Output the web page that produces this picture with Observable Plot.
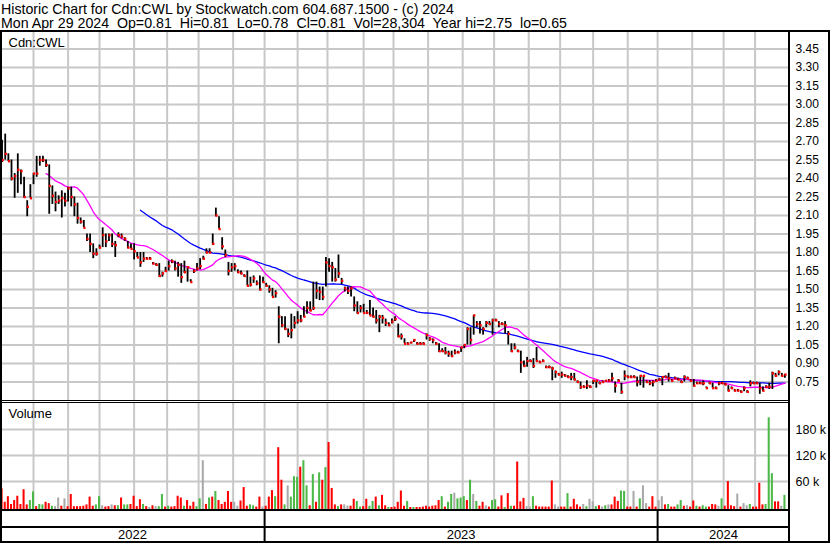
<!DOCTYPE html>
<html><head><meta charset="utf-8">
<script src="https://cdn.jsdelivr.net/npm/d3@7"></script>
<script src="https://cdn.jsdelivr.net/npm/@observablehq/plot@0.6"></script>
<style>
body{margin:0;background:#fff;}
#c{position:relative;width:830px;height:543px;overflow:hidden;background:#fff;font-family:'Liberation Sans',Arial,sans-serif;}
.ln{position:absolute;background:#000;}
.abs{position:absolute;left:0;}
#hdr{position:absolute;left:1px;top:1.5px;font-size:14.2px;line-height:14px;white-space:pre;color:#000;}
</style></head><body>
<div id="c">
 <div id="hdr"></div>
 <div class="abs" id="price" style="top:32px"></div>
 <div class="abs" id="vol" style="top:403px"></div>
 <div class="abs" id="dates" style="top:511px"></div>
 <div class="ln" style="left:0;top:30px;width:830px;height:2px"></div>
 <div class="ln" style="left:0;top:30px;width:2px;height:513px"></div>
 <div class="ln" style="left:788px;top:30px;width:2px;height:513px"></div>
 <div class="ln" style="left:828px;top:30px;width:2px;height:513px"></div>
 <div class="ln" style="left:0;top:400px;width:789px;height:1px"></div>
 <div class="ln" style="left:0;top:402px;width:789px;height:1px"></div>
 <div class="ln" style="left:0;top:509px;width:789px;height:2px"></div>
 <div class="ln" style="left:0;top:526px;width:789px;height:2px"></div>
 <div class="ln" style="left:0;top:541px;width:830px;height:2px"></div>
</div>
<script>
// ---------- header text ----------
const titleLine = "Historic Chart for Cdn:CWL by Stockwatch.com 604.687.1500 - (c) 2024";
const quoteLine = "Mon Apr 29 2024  Op=0.81  Hi=0.81  Lo=0.78  Cl=0.81  Vol=28,304  Year hi=2.75  lo=0.65";
const symbolLabel = "Cdn:CWL";
const volumeLabel = "Volume";

// ---------- trading calendar (TSX holidays) ----------
const firstDay = "2022-05-02", lastDay = "2024-04-29";
const holidays = ["2022-05-23","2022-07-01","2022-08-01","2022-09-05","2022-10-10","2022-12-26","2022-12-27",
  "2023-01-02","2023-02-20","2023-04-07","2023-05-22","2023-07-03","2023-08-07","2023-09-04","2023-10-09","2023-12-25","2023-12-26",
  "2024-01-01","2024-02-19","2024-03-29"];

// ---------- ticks ----------
const priceTicks = [0.75,0.90,1.05,1.20,1.35,1.50,1.65,1.80,1.95,2.10,2.25,2.40,2.55,2.70,2.85,3.00,3.15,3.30,3.45];
const volumeTicks = [60000,120000,180000];

// ---------- data: one entry per two trading days ----------
const high = [
2.71,2.76,2.60,2.55,2.44,2.60,2.47,2.41,2.22,2.35,
2.44,2.58,2.58,2.58,2.55,2.51,2.34,2.29,2.26,2.30,
2.28,2.33,2.33,2.25,2.20,2.08,2.06,1.95,1.95,1.87,
1.83,1.86,2.00,1.95,1.95,1.95,1.89,1.96,1.95,1.92,
1.89,1.87,1.87,1.80,1.80,1.80,1.76,1.76,1.72,1.71,
1.71,1.64,1.68,1.73,1.74,1.73,1.72,1.71,1.73,1.68,
1.58,1.66,1.71,1.75,1.77,1.83,1.83,1.95,2.16,2.09,
1.92,1.82,1.72,1.71,1.71,1.66,1.65,1.62,1.65,1.60,
1.61,1.57,1.61,1.60,1.55,1.53,1.51,1.49,1.36,1.28,
1.28,1.18,1.30,1.28,1.32,1.29,1.36,1.40,1.40,1.56,
1.56,1.52,1.52,1.76,1.75,1.72,1.67,1.78,1.59,1.52,
1.52,1.52,1.44,1.40,1.37,1.38,1.33,1.41,1.35,1.33,
1.29,1.29,1.26,1.23,1.26,1.28,1.22,1.14,1.10,1.07,
1.07,1.09,1.07,1.07,1.07,1.14,1.11,1.10,1.07,1.06,
1.02,1.03,1.00,1.00,1.01,1.00,1.03,1.05,1.19,1.19,
1.29,1.24,1.24,1.19,1.24,1.24,1.26,1.26,1.24,1.23,
1.24,1.16,1.06,1.06,1.01,1.00,0.92,0.95,0.93,0.94,
1.03,0.92,0.93,0.88,0.88,0.87,0.84,0.82,0.83,0.81,
0.80,0.82,0.82,0.76,0.75,0.72,0.76,0.72,0.76,0.76,
0.75,0.76,0.76,0.77,0.82,0.75,0.77,0.74,0.84,0.80,
0.80,0.80,0.79,0.80,0.80,0.76,0.76,0.76,0.77,0.78,
0.79,0.80,0.82,0.77,0.79,0.78,0.76,0.80,0.79,0.77,
0.77,0.75,0.75,0.76,0.71,0.75,0.74,0.71,0.75,0.75,
0.74,0.72,0.71,0.69,0.69,0.68,0.71,0.68,0.76,0.75,
0.75,0.74,0.71,0.72,0.74,0.83,0.82,0.84,0.82,0.81];
const low = [
2.53,2.55,2.54,2.38,2.24,2.28,2.35,2.24,2.09,2.24,
2.35,2.41,2.50,2.53,2.49,2.11,2.19,2.13,2.19,2.08,
2.17,2.21,2.17,2.09,2.03,2.03,2.00,1.89,1.80,1.75,
1.77,1.83,1.84,1.84,1.89,1.84,1.76,1.92,1.91,1.89,
1.83,1.83,1.74,1.76,1.68,1.72,1.74,1.74,1.70,1.69,
1.60,1.60,1.64,1.65,1.71,1.65,1.60,1.55,1.63,1.56,
1.56,1.63,1.65,1.66,1.74,1.79,1.79,1.86,2.09,1.99,
1.82,1.76,1.61,1.64,1.65,1.63,1.62,1.60,1.53,1.52,
1.55,1.53,1.49,1.55,1.52,1.47,1.44,1.43,1.06,1.19,
1.17,1.11,1.10,1.18,1.22,1.23,1.27,1.30,1.32,1.33,
1.42,1.41,1.41,1.52,1.64,1.56,1.56,1.59,1.54,1.48,
1.46,1.44,1.32,1.30,1.31,1.31,1.30,1.29,1.27,1.22,
1.15,1.22,1.20,1.20,1.22,1.24,1.11,1.09,1.06,1.05,
1.06,1.07,1.05,1.05,1.05,1.09,1.08,1.06,1.05,0.99,
0.99,0.97,0.95,0.95,0.97,0.98,0.99,1.02,1.05,1.05,
1.13,1.19,1.14,1.13,1.19,1.21,1.13,1.24,1.19,1.21,
1.14,1.05,0.99,1.01,0.99,0.82,0.87,0.87,0.91,0.86,
0.91,0.90,0.91,0.86,0.86,0.76,0.78,0.80,0.78,0.79,
0.78,0.76,0.76,0.74,0.69,0.70,0.69,0.70,0.73,0.70,
0.73,0.74,0.75,0.75,0.75,0.66,0.75,0.65,0.76,0.78,
0.78,0.78,0.71,0.72,0.70,0.74,0.72,0.71,0.75,0.76,
0.72,0.78,0.75,0.75,0.77,0.76,0.74,0.75,0.77,0.75,
0.71,0.73,0.73,0.72,0.70,0.73,0.70,0.69,0.72,0.73,
0.72,0.67,0.69,0.67,0.67,0.66,0.67,0.66,0.71,0.73,
0.73,0.65,0.67,0.70,0.69,0.69,0.79,0.80,0.79,0.78];
const close = [
2.55,2.60,2.54,2.40,2.42,2.47,2.46,2.25,2.17,2.24,
2.44,2.44,2.55,2.55,2.51,2.34,2.26,2.21,2.22,2.24,
2.22,2.32,2.25,2.19,2.08,2.05,2.00,1.91,1.87,1.79,
1.79,1.84,1.94,1.89,1.94,1.87,1.86,1.94,1.93,1.91,
1.84,1.83,1.81,1.76,1.72,1.75,1.75,1.75,1.71,1.70,
1.61,1.63,1.65,1.69,1.73,1.67,1.70,1.60,1.64,1.68,
1.56,1.65,1.67,1.69,1.75,1.80,1.80,1.87,2.10,1.99,
1.85,1.78,1.65,1.68,1.69,1.64,1.63,1.61,1.53,1.54,
1.59,1.55,1.50,1.56,1.53,1.50,1.44,1.47,1.28,1.21,
1.18,1.14,1.17,1.23,1.25,1.25,1.28,1.35,1.33,1.35,
1.49,1.48,1.44,1.72,1.69,1.68,1.58,1.63,1.57,1.51,
1.49,1.51,1.37,1.31,1.35,1.31,1.31,1.29,1.28,1.25,
1.28,1.27,1.23,1.21,1.24,1.26,1.12,1.12,1.06,1.06,
1.07,1.09,1.06,1.06,1.06,1.13,1.10,1.09,1.06,1.00,
1.00,0.99,0.98,0.96,0.99,0.99,1.03,1.05,1.18,1.09,
1.29,1.22,1.21,1.18,1.23,1.22,1.25,1.25,1.22,1.22,
1.21,1.14,1.00,1.03,1.00,0.91,0.88,0.92,0.92,0.88,
0.92,0.91,0.92,0.87,0.87,0.86,0.83,0.81,0.81,0.80,
0.79,0.79,0.77,0.75,0.71,0.71,0.72,0.71,0.76,0.76,
0.74,0.75,0.76,0.76,0.78,0.72,0.76,0.67,0.80,0.79,
0.79,0.79,0.75,0.80,0.80,0.75,0.74,0.75,0.76,0.77,
0.79,0.79,0.78,0.76,0.78,0.77,0.75,0.79,0.78,0.76,
0.72,0.74,0.74,0.74,0.70,0.74,0.70,0.70,0.74,0.74,
0.73,0.68,0.70,0.68,0.68,0.67,0.70,0.67,0.74,0.74,
0.74,0.70,0.68,0.71,0.71,0.82,0.80,0.83,0.80,0.81];
// volume in thousands of shares
const volumeK = [
43,12,25,7,16,26,7,41,6,16,
36,2,7,6,12,9,3,2,22,3,
20,2,30,2,2,2,3,6,24,3,
6,25,4,1,2,6,4,4,22,6,
6,7,26,2,18,7,2,0,4,2,
2,30,1,3,1,2,26,22,3,16,
3,12,2,20,108,7,22,24,37,16,
7,12,37,12,12,3,15,46,3,6,
4,1,24,1,3,24,39,25,138,63,
6,50,24,71,70,93,108,50,4,76,
12,80,63,92,150,44,6,2,6,6,
3,3,19,14,1,2,19,3,14,24,
4,28,4,0,0,1,12,38,3,14,
0,0,0,0,1,3,1,3,4,16,
25,1,12,30,33,20,22,25,16,63,
30,14,3,12,4,1,16,18,1,27,
0,32,3,3,105,13,21,2,1,25,
3,1,1,1,1,61,6,1,1,1,
32,1,19,6,1,7,2,19,13,2,
4,1,4,6,6,24,14,38,37,1,
1,37,1,20,50,9,1,25,1,16,
25,6,7,1,1,6,16,3,4,1,
15,3,1,4,1,1,7,6,3,20,
3,60,4,2,31,1,9,4,7,1,
1,56,6,7,207,78,13,13,3,28];
// r = down, g = up, n = unchanged
const volumeDir = ("rrrrrrrrrg"+"grggrrgnnr"+"nrrrrrrrrr"+"ggnrrnrgrg"+"grrrrgrnrn"+
  "ggrgrrrrgr"+"rrggnrgrgr"+"rrrrnnrrrg"+"grrnrrrgrr"+"gngggrggrg"+
  "rgrgrrrgrn"+"nrrggrrggr"+"grrgrrrrrg"+"rgrrrrrrrr"+"grggngggrg"+
  "ngrrnrggrr"+"grgrrrrnng"+"rrrrrrnnrr"+"grrrrngnng"+"rngnrrrggr"+
  "rnrgnnrrrn"+"nrgrrggrnr"+"rgrggrrrng"+"rrrrnrnngr"+"rrrgggrrng").split("");
const dirColor = {r: "#ff0000", g: "#4cb848", n: "#a9a9a9"};

// ---------- build calendar ----------
const tradingDays = [];
for (let d = new Date(firstDay + "T00:00:00Z"); d <= new Date(lastDay + "T00:00:00Z"); d.setUTCDate(d.getUTCDate() + 1)) {
  const dow = d.getUTCDay();
  const s = d.toISOString().slice(0, 10);
  if (dow === 0 || dow === 6 || holidays.includes(s)) continue;
  tradingDays.push(s);
}
const monthLines = [], yearStarts = [];
tradingDays.forEach((s, i) => {
  if (i === 0) return;
  const p = tradingDays[i - 1];
  if (s.slice(0, 7) !== p.slice(0, 7)) monthLines.push(i - 0.5);
  if (s.slice(0, 4) !== p.slice(0, 4)) yearStarts.push(i - 0.5);
});
const xDomain = [-0.5, tradingDays.length + 0.4];
const yearBounds = [xDomain[0], ...yearStarts, xDomain[1]];
const years = [];
for (let i = 0; i < yearBounds.length - 1; i++) {
  const idx = Math.ceil(yearBounds[i] + 0.5);
  years.push({label: tradingDays[Math.min(idx, tradingDays.length - 1)].slice(0, 4), mid: (yearBounds[i] + yearBounds[i + 1]) / 2});
}

const rows = close.map((c, k) => ({
  t: 2 * k + 0.5, hi: high[k], lo: low[k], close: c,
  vol: volumeK[k] * 1000, col: dirColor[volumeDir[k]]
}));

document.getElementById("hdr").textContent = titleLine + "\n" + quoteLine;

const font = "'Liberation Sans', Arial, sans-serif";
const grid = "#c8c8c8";

const price = Plot.plot({
  width: 830, height: 368,
  marginLeft: 0, marginRight: 41, marginTop: 0, marginBottom: 0,
  style: {fontFamily: font, fontSize: "12px", color: "black", background: "transparent", overflow: "visible"},
  x: {domain: xDomain, axis: null},
  y: {domain: [0.60, 3.584]},
  marks: [
    Plot.ruleY(priceTicks, {stroke: grid, strokeWidth: 2}),
    Plot.ruleX(monthLines, {stroke: grid, strokeWidth: 2}),
    Plot.axisY(priceTicks, {anchor: "right", tickSize: 0, tickPadding: 6, tickFormat: d3.format(".2f"), label: null, fontSize: 12}),
    Plot.text([symbolLabel], {frameAnchor: "top-left", dx: 8, dy: 5, fontSize: 13, fill: "black"}),
    Plot.lineY(rows, Plot.windowY({k: 45, anchor: "end", strict: true}, {x: "t", y: "close", stroke: "#0000ff", strokeWidth: 1.3})),
    Plot.lineY(rows, Plot.windowY({k: 15, anchor: "end", strict: true}, {x: "t", y: "close", stroke: "#ff00ff", strokeWidth: 1.3})),
    Plot.ruleX(rows, {x: "t", y1: "lo", y2: "hi", stroke: "black", strokeWidth: 1.8}),
    Plot.ruleY(rows, {x1: "t", x2: d => d.t + 1.4, y: "close", stroke: "#ff0000", strokeWidth: 2.4})
  ]
});
document.getElementById("price").appendChild(price);

const volume = Plot.plot({
  width: 830, height: 107,
  marginLeft: 0, marginRight: 41, marginTop: 0, marginBottom: 0,
  style: {fontFamily: font, fontSize: "12.5px", color: "black", background: "transparent", overflow: "visible"},
  x: {domain: xDomain, axis: null},
  y: {domain: [-6900, 240000]},
  color: {type: "identity"},
  marks: [
    Plot.ruleY(volumeTicks, {stroke: grid, strokeWidth: 2}),
    Plot.ruleX(monthLines, {stroke: grid, strokeWidth: 2}),
    Plot.rect(rows, {x1: d => d.t - 0.65, x2: d => d.t + 0.65, y1: () => -6900, y2: "vol", fill: "col"}),
    Plot.axisY(volumeTicks, {anchor: "right", tickSize: 0, tickPadding: 6, tickFormat: d => d / 1000 + " k", label: null, fontSize: 12.5}),
    Plot.text([volumeLabel], {frameAnchor: "top-left", dx: 8, dy: 5, fontSize: 13, fill: "black"})
  ]
});
document.getElementById("vol").appendChild(volume);

const dates = Plot.plot({
  width: 830, height: 30,
  marginLeft: 0, marginRight: 41, marginTop: 0, marginBottom: 0,
  style: {fontFamily: font, fontSize: "13px", color: "black", background: "transparent", overflow: "visible"},
  x: {domain: xDomain, axis: null},
  y: {domain: [30, 0], axis: null},
  marks: [
    Plot.ruleX(yearStarts, {stroke: "black", strokeWidth: 2}),
    Plot.text(years, {x: "mid", y: () => 23.5, text: "label", fontSize: 13, fill: "black"})
  ]
});
document.getElementById("dates").appendChild(dates);
</script>
</body></html>
